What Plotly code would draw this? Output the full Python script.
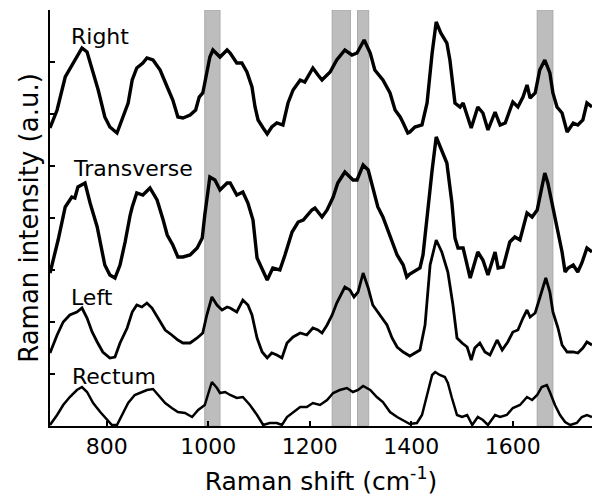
import plotly.graph_objects as go

# Raman spectra of four colon regions (wavenumber in cm^-1, intensity in a.u., stacked offsets)
right_x = [688, 702, 718, 731, 741, 751, 761, 771, 783, 796, 806, 820, 830, 842, 850, 859, 871, 879,
           891, 905, 919, 930, 940, 950, 964, 975, 982, 989, 993, 1003, 1009, 1023, 1037, 1043, 1056,
           1066, 1076, 1086, 1092, 1098, 1108, 1116, 1125, 1135, 1147, 1157, 1167, 1181, 1190, 1200,
           1206, 1216, 1224, 1240, 1253, 1269, 1283, 1293, 1307, 1319, 1328, 1344, 1358, 1368, 1378,
           1384, 1393, 1397, 1407, 1421, 1431, 1441, 1449, 1458, 1470, 1476, 1486, 1496, 1502, 1518,
           1531, 1541, 1551, 1565, 1575, 1585, 1594, 1600, 1610, 1620, 1628, 1634, 1644, 1653, 1663,
           1673, 1679, 1687, 1697, 1707, 1719, 1728, 1738, 1746, 1756]
right_y = [298, 316, 349, 361, 369, 378, 374, 358, 336, 309, 299, 293, 306, 323, 346, 358, 363, 368,
           366, 356, 339, 326, 309, 308, 311, 316, 329, 333, 343, 369, 376, 369, 376, 373, 363,
           363, 354, 339, 319, 306, 298, 292, 299, 303, 301, 323, 336, 346, 344, 353,
           358, 351, 346, 354, 366, 376, 371, 373, 386, 373, 356, 346, 333, 316, 309,
           303, 293, 294, 299, 301, 323, 373, 404, 393, 383, 366, 323, 319, 323, 298,
           319, 313, 296, 314, 301, 303, 316, 324, 319, 329, 341, 328, 333, 356, 366,
           353, 333, 319, 313, 294, 303, 301, 306, 323, 319]

transverse_x = [688, 704, 718, 731, 737, 743, 757, 767, 781, 787, 796, 806, 816, 826, 836, 846, 850,
                859, 871, 885, 899, 911, 919, 930, 940, 950, 964, 978, 988, 993, 1003, 1013, 1023,
                1037, 1043, 1056, 1068, 1078, 1088, 1096, 1116, 1127, 1141, 1151, 1165, 1177, 1187,
                1204, 1210, 1224, 1234, 1246, 1255, 1269, 1275, 1285, 1293, 1305, 1315, 1324, 1334,
                1344, 1358, 1372, 1384, 1391, 1397, 1417, 1423, 1431, 1441, 1449, 1460, 1470, 1480,
                1486, 1492, 1502, 1516, 1531, 1541, 1551, 1565, 1571, 1581, 1594, 1604, 1614, 1628,
                1638, 1648, 1657, 1663, 1669, 1677, 1683, 1689, 1697, 1703, 1709, 1719, 1728, 1736,
                1746, 1756]
transverse_y = [153, 186, 219, 229, 228, 239, 243, 223, 199, 184, 161, 151, 148, 161, 184, 211, 219,
                233, 231, 238, 226, 206, 191, 181, 169, 169, 171, 178, 188, 211, 249, 246, 236,
                243, 243, 231, 234, 223, 206, 168, 146, 158, 156, 171, 194, 204, 206,
                216, 218, 209, 216, 229, 243, 254, 251, 246, 246, 261, 256, 239, 219,
                209, 191, 171, 161, 149, 152, 158, 171, 211, 256, 289, 276, 263, 223,
                188, 178, 178, 148, 174, 166, 151, 174, 158, 159, 184, 189, 186, 213,
                209, 216, 239, 253, 243, 223, 208, 191, 174, 154, 158, 161, 154, 163,
                178, 174]

left_x = [688, 702, 714, 727, 741, 751, 761, 771, 781, 792, 806, 816, 826, 840, 850, 859, 869, 879,
          889, 901, 915, 928, 940, 950, 964, 978, 989, 997, 1007, 1017, 1027, 1037, 1043, 1056, 1068,
          1078, 1086, 1096, 1106, 1116, 1125, 1135, 1145, 1155, 1167, 1181, 1194, 1206, 1216, 1224,
          1234, 1244, 1253, 1269, 1279, 1287, 1295, 1305, 1315, 1324, 1338, 1352, 1362, 1372, 1384,
          1397, 1417, 1427, 1437, 1449, 1460, 1472, 1482, 1490, 1500, 1510, 1518, 1525, 1535, 1545,
          1555, 1569, 1579, 1590, 1600, 1610, 1620, 1628, 1634, 1644, 1653, 1665, 1673, 1679, 1689,
          1697, 1707, 1719, 1728, 1738, 1746, 1756]
left_y = [73, 91, 104, 111, 114, 118, 108, 94, 84, 74, 68, 69, 83, 98, 114, 121, 119, 123,
          118, 108, 96, 91, 86, 83, 83, 88, 93, 111, 129, 121, 116, 119, 118, 114, 126,
          121, 111, 88, 74, 68, 73, 71, 68, 83, 89, 93, 91, 98, 96, 93,
          101, 111, 123, 139, 136, 129, 134, 153, 138, 121, 111, 101, 88, 79, 74,
          70, 76, 101, 161, 186, 174, 154, 121, 88, 83, 79, 66, 78, 83, 74,
          71, 86, 76, 84, 94, 96, 108, 116, 109, 113, 128, 148, 134, 114, 98,
          81, 74, 74, 73, 78, 84, 81]

rectum_x = [688, 702, 714, 727, 741, 751, 761, 773, 787, 800, 810, 820, 830, 842, 855, 869, 879, 891,
            905, 915, 928, 940, 954, 968, 980, 993, 999, 1007, 1017, 1023, 1033, 1043, 1056, 1068,
            1082, 1096, 1108, 1121, 1135, 1145, 1155, 1167, 1181, 1194, 1206, 1220, 1234, 1246, 1259,
            1273, 1285, 1295, 1305, 1319, 1332, 1344, 1358, 1372, 1384, 1397, 1411, 1421, 1431, 1441,
            1447, 1456, 1466, 1472, 1480, 1490, 1500, 1510, 1520, 1531, 1541, 1551, 1565, 1575, 1588,
            1600, 1614, 1628, 1638, 1648, 1657, 1667, 1673, 1683, 1693, 1703, 1713, 1726, 1736, 1746,
            1756]
rectum_y = [1, 11, 21, 29, 36, 39, 34, 23, 14, 6, 1, 1, 11, 23, 31, 34, 36, 37,
            29, 23, 18, 14, 13, 9, 16, 21, 31, 44, 38, 33, 34, 31, 28, 29,
            21, 11, 1, 3, 3, 1, 9, 14, 19, 19, 23, 21, 26, 33, 36,
            38, 34, 36, 40, 36, 29, 24, 14, 9, 6, 2, 3, 11, 31, 51,
            54, 51, 49, 43, 28, 11, 9, 11, 1, 9, 6, 1, 11, 9, 11,
            18, 21, 29, 26, 31, 39, 41, 34, 21, 11, 4, 1, 3, 9, 11,
            9]

# Highlighted Raman bands (cm^-1)
band_ranges = [(993, 1023), (1244, 1280), (1294, 1316), (1648, 1679)]

# Curve labels with their anchor points
label_text = ["Right", "Transverse", "Left", "Rectum"]
label_x = [725, 729, 725, 727]
label_y = [390, 258, 129, 50]

x_ticks = [800, 1000, 1200, 1400, 1600]
y_ticks = [0, 52, 104, 156, 208, 260, 312, 364, 416]

FONT = "Verdana, DejaVu Sans, sans-serif"

fig = go.Figure()

series = [(right_x, right_y, 3.4), (transverse_x, transverse_y, 3.4),
          (left_x, left_y, 2.8), (rectum_x, rectum_y, 2.5)]
for xs, ys, w in series:
    fig.add_trace(go.Scatter(x=xs, y=ys, mode="lines",
                             line=dict(color="black", width=w),
                             showlegend=False, hoverinfo="skip"))

for lo, hi in band_ranges:
    fig.add_shape(type="rect", xref="x", yref="y", x0=lo, x1=hi, y0=0, y1=416,
                  fillcolor="#bdbdbd", line=dict(color="#a9a9a9", width=1), layer="below")

for t, lx, ly in zip(label_text, label_x, label_y):
    fig.add_annotation(x=lx, y=ly, text=t, showarrow=False, xanchor="left", yanchor="middle",
                       font=dict(family=FONT, size=22, color="black"))

fig.update_layout(
    width=592, height=499,
    margin=dict(l=50, r=0, t=10, b=73),
    paper_bgcolor="white", plot_bgcolor="white",
    font=dict(family=FONT, color="black"),
)
fig.update_xaxes(
    range=[688, 1756], tickvals=x_ticks, ticks="inside", ticklen=5, tickwidth=1.5,
    tickcolor="black", showline=True, linecolor="black", linewidth=2, showgrid=False,
    zeroline=False, tickfont=dict(family=FONT, size=22, color="black"),
    title=dict(text="Raman shift (cm<sup>-1</sup>)", font=dict(family=FONT, size=25, color="black"),
               standoff=14),
)
fig.update_yaxes(
    range=[0, 416], tickvals=y_ticks, showticklabels=False, ticks="inside", ticklen=5,
    tickwidth=1.5, tickcolor="black", showline=True, linecolor="black", linewidth=2,
    showgrid=False, zeroline=False,
    title=dict(text="Raman intensity (a.u.)", font=dict(family=FONT, size=26, color="black"),
               standoff=2),
)

fig.write_html("out.html")
